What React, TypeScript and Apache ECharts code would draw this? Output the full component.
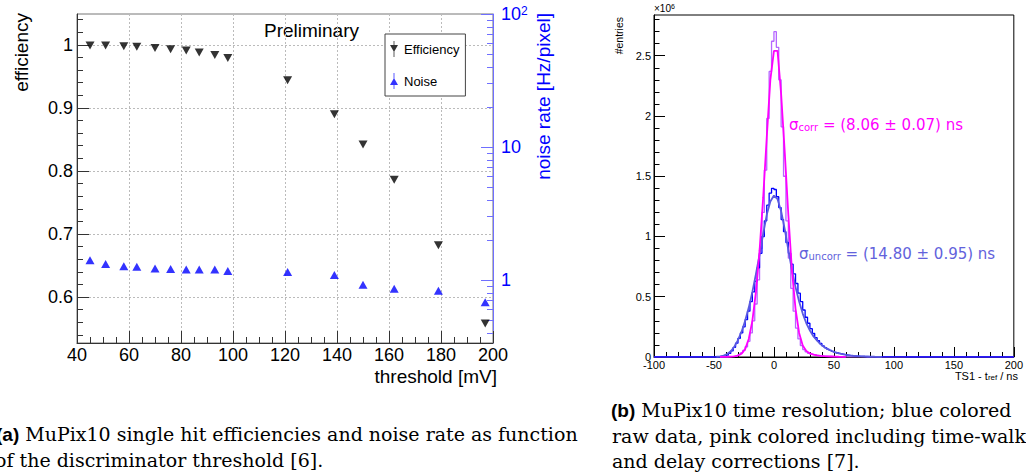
import { useEffect, useRef } from 'react';
import * as echarts from 'echarts';

// ---------- Panel (a): efficiency & noise vs threshold ----------
const thresholds = [45, 51, 58, 63, 70, 76, 82, 87, 93, 98, 121, 139, 150, 162, 179, 197];
const efficiency = [0.999, 0.999, 0.998, 0.997, 0.995, 0.993, 0.991, 0.988, 0.984, 0.979, 0.944, 0.890, 0.842, 0.786, 0.682, 0.558];
const noiseRate = [1.41, 1.32, 1.27, 1.26, 1.22, 1.21, 1.20, 1.20, 1.20, 1.17, 1.15, 1.09, 0.92, 0.86, 0.83, 0.68];

const effMajorTicks = [0.6, 0.7, 0.8, 0.9, 1];
const effMinorTicks = [0.54, 0.56, 0.58, 0.62, 0.64, 0.66, 0.68, 0.72, 0.74, 0.76, 0.78, 0.82, 0.84, 0.86, 0.88, 0.92, 0.94, 0.96, 0.98, 1.02, 1.04];
const noiseMajorTicks = [1, 10, 100];
const noiseMinorTicks = [0.4, 0.5, 0.6, 0.7, 0.8, 0.9, 2, 3, 4, 5, 6, 7, 8, 9, 20, 30, 40, 50, 60, 70, 80, 90];

// ---------- Panel (b): time resolution histograms (x10^6 entries) ----------
const histStart = -100;
const binWidth = 2;
const rawCounts = [
  0, 0, 0, 0, 0, 0, 0, 0, 0, 0,
  0, 0, 0, 0, 0, 0, 0, 0, 0, 0,
  0, 0, 0, 0, 0, 0, 0, 0, 0.002, 0.006,
  0.015, 0.03, 0.05, 0.08, 0.115, 0.155, 0.2, 0.25, 0.31, 0.38,
  0.46, 0.54, 0.63, 0.74, 0.86, 1.0, 1.13, 1.26, 1.36, 1.40,
  1.39, 1.33, 1.24, 1.14, 1.04, 0.95, 0.86, 0.77, 0.69, 0.61,
  0.53, 0.46, 0.39, 0.33, 0.28, 0.235, 0.195, 0.16, 0.135, 0.112,
  0.092, 0.077, 0.065, 0.055, 0.046, 0.039, 0.033, 0.028, 0.023, 0.019,
  0.016, 0.013, 0.011, 0.009, 0.0075, 0.006, 0.005, 0.004, 0.0035, 0.003,
  0.0025, 0.002, 0.0018, 0.0015, 0.0012, 0.001, 0.0009, 0.0008, 0.0007, 0.0006,
  0.0005, 0.0004, 0.0003, 0.0003, 0.0002, 0.0002, 0.0001, 0.0001, 0, 0,
  0, 0, 0, 0, 0, 0, 0, 0, 0, 0,
  0, 0, 0, 0, 0, 0, 0, 0, 0, 0,
  0, 0, 0, 0, 0, 0, 0, 0, 0, 0,
  0, 0, 0, 0, 0, 0, 0, 0, 0, 0,
];
const corrCounts = [
  0, 0, 0, 0, 0, 0, 0, 0, 0, 0,
  0, 0, 0, 0, 0, 0, 0, 0, 0, 0,
  0, 0, 0, 0, 0, 0, 0, 0, 0.001, 0.001,
  0.002, 0.003, 0.005, 0.008, 0.013, 0.02, 0.035, 0.055, 0.085, 0.13,
  0.2, 0.3, 0.44, 0.64, 0.9, 1.2, 1.55, 1.98, 2.37, 2.62,
  2.70, 2.57, 2.30, 1.91, 1.50, 1.13, 0.82, 0.57, 0.38, 0.24,
  0.15, 0.095, 0.062, 0.043, 0.031, 0.024, 0.019, 0.015, 0.012, 0.01,
  0.008, 0.007, 0.006, 0.005, 0.004, 0.0035, 0.003, 0.0025, 0.002, 0.0018,
  0.0015, 0.0012, 0.001, 0.0008, 0.0006, 0.0005, 0.0004, 0.0003, 0.0002, 0.0001,
  0, 0, 0, 0, 0, 0, 0, 0, 0, 0,
  0, 0, 0, 0, 0, 0, 0, 0, 0, 0,
  0, 0, 0, 0, 0, 0, 0, 0, 0, 0,
  0, 0, 0, 0, 0, 0, 0, 0, 0, 0,
  0, 0, 0, 0, 0, 0, 0, 0, 0, 0,
  0, 0, 0, 0, 0, 0, 0, 0, 0, 0,
];
const rawFitX = [-48, -45, -42, -39, -36, -33, -30, -27, -24, -21, -18, -15, -12, -9, -6, -3, 0, 3, 6, 9, 12, 15, 18, 21, 24, 27, 30, 33, 36, 39, 42, 45, 48, 51, 54, 57, 60, 63, 66, 69, 72, 75, 78, 81, 84, 87, 90];
const rawFitY = [0.002, 0.005, 0.012, 0.025, 0.048, 0.085, 0.14, 0.21, 0.30, 0.41, 0.54, 0.69, 0.85, 1.02, 1.18, 1.29, 1.34, 1.31, 1.21, 1.06, 0.89, 0.72, 0.58, 0.46, 0.36, 0.28, 0.22, 0.17, 0.135, 0.105, 0.082, 0.064, 0.05, 0.039, 0.03, 0.024, 0.018, 0.014, 0.011, 0.0085, 0.0065, 0.005, 0.004, 0.003, 0.0023, 0.0018, 0.0014];
const corrFitX = [-45, -42, -39, -36, -33, -30, -27, -24, -21, -18, -15, -12, -9, -6, -3, 0, 3, 6, 9, 12, 15, 18, 21, 24, 27, 30, 33, 36, 39, 42, 45, 48, 51, 54, 57, 60];
const corrFitY = [0.001, 0.0015, 0.002, 0.003, 0.006, 0.012, 0.028, 0.065, 0.15, 0.30, 0.54, 0.88, 1.32, 1.82, 2.30, 2.54, 2.54, 2.18, 1.70, 1.18, 0.72, 0.40, 0.2, 0.095, 0.05, 0.03, 0.02, 0.014, 0.01, 0.007, 0.005, 0.004, 0.003, 0.002, 0.0015, 0.001];

const entriesMajorTicks = [0, 0.5, 1, 1.5, 2, 2.5];
const entriesMinorTicks = [0.1, 0.2, 0.3, 0.4, 0.6, 0.7, 0.8, 0.9, 1.1, 1.2, 1.3, 1.4, 1.6, 1.7, 1.8, 1.9, 2.1, 2.2, 2.3, 2.4, 2.6, 2.7, 2.8];

const SANS = 'Liberation Sans';
const DSANS = 'DejaVu Sans';
const SERIF = 'DejaVu Serif';
const BLUE = '#0000ff';
const CAP = 19;

function histPoints(counts: number[]) {
  const pts = counts.map((c, i) => [histStart + i * binWidth, c]);
  pts.push([histStart + counts.length * binWidth, counts[counts.length - 1]]);
  return pts;
}

export default function App() {
  const ref = useRef<HTMLDivElement>(null);
  useEffect(() => {
    if (!ref.current) return;
    const chart = echarts.init(ref.current, undefined, { renderer: 'svg' });
    const axisDark = { color: '#333', width: 1 };
    const option: any = {
      animation: false,
      backgroundColor: '#fff',
      grid: [
        { left: 77, top: 14, width: 416, height: 329, show: true, borderColor: '#777', borderWidth: 1 },
        { left: 654, top: 15, width: 363, height: 342, show: true, borderColor: '#000', borderWidth: 1 },
      ],
      xAxis: [
        {
          gridIndex: 0, type: 'value', min: 40, max: 200, interval: 20,
          axisLine: { onZero: false, lineStyle: axisDark },
          axisTick: { inside: true, length: 12, lineStyle: axisDark },
          minorTick: { show: true, splitNumber: 4, length: 6, lineStyle: axisDark },
          axisLabel: { fontSize: 18, fontFamily: SANS, color: '#000', margin: 3 },
          splitLine: { show: true, lineStyle: { color: '#bbb', type: [2, 2], width: 1 } },
        },
        {
          gridIndex: 1, type: 'value', min: -100, max: 200, interval: 50,
          axisLine: { onZero: false, lineStyle: { color: '#000', width: 1 } },
          axisTick: { inside: true, length: 10, lineStyle: { color: '#000' } },
          minorTick: { show: true, splitNumber: 5, length: 5, lineStyle: { color: '#000' } },
          axisLabel: { fontSize: 11, fontFamily: SANS, color: '#000', margin: 2 },
          splitLine: { show: false },
        },
      ],
      yAxis: [
        {
          gridIndex: 0, type: 'value', min: 0.527, max: 1.049, position: 'left',
          axisLine: { onZero: false, lineStyle: axisDark },
          axisTick: { inside: true, length: 12, lineStyle: axisDark, customValues: effMajorTicks },
          axisLabel: { fontSize: 18, fontFamily: SANS, color: '#000', margin: 4, customValues: effMajorTicks },
          splitLine: { show: true, lineStyle: { color: '#bbb', type: [2, 2], width: 1 } },
        },
        {
          gridIndex: 0, type: 'value', min: 0.527, max: 1.049, position: 'left',
          axisLine: { show: false, onZero: false },
          axisTick: { inside: true, length: 6, lineStyle: axisDark, customValues: effMinorTicks },
          axisLabel: { show: false },
          splitLine: { show: false },
        },
        {
          gridIndex: 0, type: 'log', logBase: 10, min: 0.336, max: 100, position: 'right',
          axisLine: { onZero: false, lineStyle: { color: '#6f6fff', width: 1 } },
          axisTick: { inside: true, length: 12, lineStyle: { color: '#6f6fff' }, customValues: noiseMajorTicks },
          axisLabel: {
            customValues: noiseMajorTicks, margin: 8, color: BLUE, fontSize: 18, fontFamily: SANS,
            formatter: (v: number) => (Math.abs(v - 100) < 1e-6 ? '{m|10}{p|2}' : String(Math.round(v))),
            rich: {
              m: { fontSize: 18, color: BLUE, fontFamily: SANS },
              p: { fontSize: 12, color: BLUE, fontFamily: SANS, verticalAlign: 'top' },
            },
          },
          splitLine: { show: false },
        },
        {
          gridIndex: 0, type: 'log', logBase: 10, min: 0.336, max: 100, position: 'right',
          axisLine: { show: false, onZero: false },
          axisTick: { inside: true, length: 6, lineStyle: { color: '#6f6fff' }, customValues: noiseMinorTicks },
          axisLabel: { show: false },
          splitLine: { show: false },
        },
        {
          gridIndex: 1, type: 'value', min: 0, max: 2.838, position: 'left',
          axisLine: { onZero: false, lineStyle: { color: '#000' } },
          axisTick: { inside: true, length: 11, lineStyle: { color: '#000' }, customValues: entriesMajorTicks },
          axisLabel: { fontSize: 11, fontFamily: SANS, color: '#000', margin: 3, customValues: entriesMajorTicks },
          splitLine: { show: false },
        },
        {
          gridIndex: 1, type: 'value', min: 0, max: 2.838, position: 'left',
          axisLine: { show: false, onZero: false },
          axisTick: { inside: true, length: 5.5, lineStyle: { color: '#000' }, customValues: entriesMinorTicks },
          axisLabel: { show: false },
          splitLine: { show: false },
        },
      ],
      legend: {
        left: 385, top: 34, orient: 'vertical',
        itemWidth: 10, itemHeight: 16, itemGap: 16,
        padding: [7, 6, 7, 5],
        borderColor: '#444', borderWidth: 1, backgroundColor: '#fff',
        textStyle: { fontSize: 13, fontFamily: SANS, color: '#000' },
        data: [
          { name: 'Efficiency', icon: 'path://M1,4L9,4L5,11Z M4.6,0L5.4,0L5.4,16L4.6,16Z' },
          { name: 'Noise', icon: 'path://M5,5L9,12L1,12Z M4.6,0L5.4,0L5.4,16L4.6,16Z' },
        ],
      },
      series: [
        {
          name: 'Efficiency', type: 'scatter', xAxisIndex: 0, yAxisIndex: 0,
          symbol: 'triangle', symbolRotate: 180, symbolSize: [9, 8],
          itemStyle: { color: '#000' },
          data: thresholds.map((t, i) => [t, efficiency[i]]),
        },
        {
          name: 'Noise', type: 'scatter', xAxisIndex: 0, yAxisIndex: 2,
          symbol: 'triangle', symbolSize: [9, 8],
          itemStyle: { color: BLUE },
          data: thresholds.map((t, i) => [t, noiseRate[i]]),
        },
        {
          name: 'corrHist', type: 'line', xAxisIndex: 1, yAxisIndex: 4, step: 'end',
          showSymbol: false, lineStyle: { color: '#b566ff', width: 1.3 },
          data: histPoints(corrCounts), z: 3,
        },
        {
          name: 'rawHist', type: 'line', xAxisIndex: 1, yAxisIndex: 4, step: 'end',
          showSymbol: false, lineStyle: { color: '#0000ff', width: 1.3 },
          data: histPoints(rawCounts), z: 4,
        },
        {
          name: 'rawFit', type: 'line', xAxisIndex: 1, yAxisIndex: 4,
          showSymbol: false, lineStyle: { color: '#5a5ae0', width: 1.8 },
          data: rawFitX.map((x, i) => [x, rawFitY[i]]), z: 5,
        },
        {
          name: 'corrFit', type: 'line', xAxisIndex: 1, yAxisIndex: 4,
          showSymbol: false, lineStyle: { color: '#ff00ff', width: 1.8 },
          data: corrFitX.map((x, i) => [x, corrFitY[i]]), z: 6,
        },
      ],
      graphic: [
        { type: 'text', x: 264, y: 30, style: { text: 'Preliminary', fontSize: 19, fontFamily: SANS, fill: '#000', align: 'left', verticalAlign: 'middle' } },
        { type: 'text', x: 21, y: 13, rotation: Math.PI / 2, style: { text: 'efficiency', fontSize: 19, fontFamily: SANS, fill: '#000', align: 'right', verticalAlign: 'middle' } },
        { type: 'text', x: 543, y: 13, rotation: Math.PI / 2, style: { text: 'noise rate [Hz/pixel]', fontSize: 19, fontFamily: SANS, fill: BLUE, align: 'right', verticalAlign: 'middle' } },
        { type: 'text', x: 497, y: 376, style: { text: 'threshold [mV]', fontSize: 19, fontFamily: SANS, fill: '#000', align: 'right', verticalAlign: 'middle' } },
        {
          type: 'text', x: 654, y: 8,
          style: {
            text: '{a|×10}{p|6}', align: 'left', verticalAlign: 'middle',
            rich: { a: { fontSize: 10, fontFamily: SANS, fill: '#000' }, p: { fontSize: 7, fontFamily: SANS, fill: '#000', verticalAlign: 'top' } },
          },
        },
        { type: 'text', x: 619, y: 17, rotation: Math.PI / 2, style: { text: '#entries', fontSize: 10.5, fontFamily: SANS, fill: '#000', align: 'right', verticalAlign: 'middle' } },
        {
          type: 'text', x: 789, y: 125,
          style: {
            text: '{a|σ}{s|corr}{a| = (8.06 ± 0.07) ns}', align: 'left', verticalAlign: 'middle',
            rich: {
              a: { fontSize: 15, fontFamily: DSANS, fill: '#ff00ff' },
              s: { fontSize: 10, fontFamily: DSANS, fill: '#ff00ff', verticalAlign: 'bottom' },
            },
          },
        },
        {
          type: 'text', x: 799, y: 254,
          style: {
            text: '{a|σ}{s|uncorr}{a| = (14.80 ± 0.95) ns}', align: 'left', verticalAlign: 'middle',
            rich: {
              a: { fontSize: 15, fontFamily: DSANS, fill: '#6262dc' },
              s: { fontSize: 10, fontFamily: DSANS, fill: '#6262dc', verticalAlign: 'bottom' },
            },
          },
        },
        {
          type: 'text', x: 1018, y: 376,
          style: {
            text: '{a|TS1 - t}{s|ref}{a| / ns}', align: 'right', verticalAlign: 'middle',
            rich: {
              a: { fontSize: 11, fontFamily: SANS, fill: '#000' },
              s: { fontSize: 8, fontFamily: SANS, fill: '#000', verticalAlign: 'bottom' },
            },
          },
        },
        {
          type: 'text', x: -4, y: 434,
          style: {
            text: '{b|(a)}{t| MuPix10 single hit efficiencies and noise rate as function}', align: 'left', verticalAlign: 'middle',
            rich: {
              b: { fontSize: CAP, fontFamily: SANS, fontWeight: 'bold', fill: '#000' },
              t: { fontSize: CAP, fontFamily: SERIF, fill: '#000' },
            },
          },
        },
        { type: 'text', x: -5, y: 460, style: { text: 'of the discriminator threshold [6].', fontSize: CAP, fontFamily: SERIF, fill: '#000', align: 'left', verticalAlign: 'middle' } },
        {
          type: 'text', x: 611, y: 410,
          style: {
            text: '{b|(b)}{t| MuPix10 time resolution; blue colored}', align: 'left', verticalAlign: 'middle',
            rich: {
              b: { fontSize: CAP, fontFamily: SANS, fontWeight: 'bold', fill: '#000' },
              t: { fontSize: CAP, fontFamily: SERIF, fill: '#000' },
            },
          },
        },
        { type: 'text', x: 612, y: 435.5, style: { text: 'raw data, pink colored including time-walk', fontSize: CAP, fontFamily: SERIF, fill: '#000', align: 'left', verticalAlign: 'middle' } },
        { type: 'text', x: 612, y: 461, style: { text: 'and delay corrections [7].', fontSize: CAP, fontFamily: SERIF, fill: '#000', align: 'left', verticalAlign: 'middle' } },
      ],
    };
    chart.setOption(option);
    return () => chart.dispose();
  }, []);
  return <div ref={ref} style={{ position: 'absolute', left: 0, top: 0, width: 1026, height: 474 }} />;
}
